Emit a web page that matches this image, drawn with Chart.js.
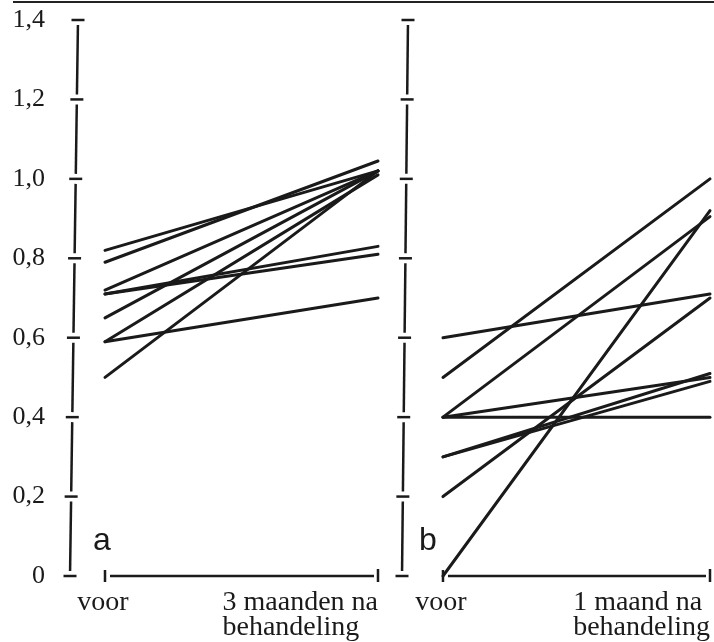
<!DOCTYPE html>
<html>
<head>
<meta charset="utf-8">
<script src="https://cdn.jsdelivr.net/npm/chart.js@4"></script>
<style>
  html, body { margin: 0; padding: 0; background: #fff; }
  #wrap { position: relative; width: 714px; height: 642px; overflow: hidden; }
  #rule { position: absolute; left: 13px; top: 1px; width: 701px; border-top: 2px solid #222; }
  #panelA { position: absolute; left: 0; top: 0; }
  #panelB { position: absolute; left: 392px; top: 0; }
</style>
</head>
<body>
<div id="wrap">
  <div id="rule"></div>
  <canvas id="panelA" width="392" height="642"></canvas>
  <canvas id="panelB" width="322" height="642"></canvas>
</div>
<script>
// --- data: one line per patient, value before and after treatment ---
const yTicks = [0, 0.2, 0.4, 0.6, 0.8, 1.0, 1.2, 1.4];

// panel a: voor -> 3 maanden na behandeling
const voorA = [0.82, 0.79, 0.72, 0.71, 0.71, 0.65, 0.59, 0.59, 0.50];
const naA   = [1.02, 1.045, 1.02, 0.83, 0.81, 1.02, 1.01, 0.70, 1.02];
const labelsA = ['voor', ['3 maanden na', 'behandeling']];

// panel b: voor -> 1 maand na behandeling
const voorB = [0.60, 0.50, 0.40, 0.40, 0.40, 0.30, 0.30, 0.20, 0.00];
const naB   = [0.71, 1.00, 0.905, 0.50, 0.40, 0.51, 0.49, 0.70, 0.92];
const labelsB = ['voor', ['1 maand na', 'behandeling']];

const INK = '#1a1a1a';
const SERIF = "'Liberation Serif', 'Times New Roman', serif";
const SANS = "'Liberation Sans', Arial, sans-serif";

// axis look of the original figure: broken axis with crossing tick marks
const figureAxes = {
  id: 'figureAxes',
  beforeDatasetsDraw(chart, args, opts) {
    const ctx = chart.ctx;
    const xs = chart.scales.x, ys = chart.scales.y;
    const top = ys.getPixelForValue(yTicks[yTicks.length - 1]);
    const bottom = ys.getPixelForValue(0);
    const left = chart.chartArea.left;
    const axisX = y => left - opts.lean * (y - top) / (bottom - top);

    ctx.save();
    ctx.strokeStyle = INK;
    ctx.lineWidth = 2.5;
    ctx.lineCap = 'butt';

    // y axis: tick marks + segments with gaps
    yTicks.forEach((v, i) => {
      const y = ys.getPixelForValue(v);
      const x = axisX(y);
      ctx.beginPath();
      ctx.moveTo(x - 6.5, y); ctx.lineTo(x + 6.5, y);
      ctx.stroke();
      if (i < yTicks.length - 1) {
        const yNext = ys.getPixelForValue(yTicks[i + 1]);
        ctx.beginPath();
        ctx.moveTo(axisX(y - 5), y - 5);
        ctx.lineTo(axisX(yNext + 5), yNext + 5);
        ctx.stroke();
      }
    });

    // x axis: end ticks at voor / na, line between with gaps
    const x0 = xs.getPixelForValue(0), x1 = xs.getPixelForValue(1);
    ctx.beginPath();
    ctx.moveTo(x0, bottom - 6); ctx.lineTo(x0, bottom + 6);
    ctx.moveTo(x1, bottom - 7); ctx.lineTo(x1, bottom + 6);
    ctx.stroke();
    ctx.beginPath();
    ctx.moveTo(x0 + 5, bottom); ctx.lineTo(x1 - 4, bottom);
    ctx.stroke();
    ctx.restore();
  },
  afterDraw(chart, args, opts) {
    const ctx = chart.ctx;
    const xs = chart.scales.x, ys = chart.scales.y;
    const base = ys.getPixelForValue(0);
    ctx.save();
    ctx.fillStyle = INK;
    ctx.textBaseline = 'alphabetic';

    // category labels under the x axis
    ctx.font = '28px ' + SERIF;
    ctx.textAlign = 'center';
    ctx.fillText(opts.labels[0], xs.getPixelForValue(0) - 2, base + 34);
    const lines = opts.labels[1];
    const w = Math.max(...lines.map(t => ctx.measureText(t).width));
    ctx.textAlign = 'left';
    lines.forEach((t, i) => {
      ctx.fillText(t, xs.getPixelForValue(1) - w, base + 34 + i * 25);
    });

    // panel letter
    ctx.font = '32px ' + SANS;
    ctx.fillText(opts.letter, chart.chartArea.left + opts.letterDx, base - 26);
    ctx.restore();
  }
};

function makePanel(id, voor, na, cfg) {
  const datasets = voor.map((v, i) => ({
    data: [{ x: 0, y: v }, { x: 1, y: na[i] }],
    borderColor: INK,
    borderWidth: 3,
    borderCapStyle: 'round',
    pointRadius: 0,
    fill: false,
    clip: false
  }));

  return new Chart(document.getElementById(id), {
    type: 'line',
    data: { datasets },
    plugins: [figureAxes],
    options: {
      responsive: false,
      devicePixelRatio: 1,
      animation: false,
      events: [],
      layout: { padding: { top: 20, bottom: 66, left: 0, right: cfg.padRight } },
      plugins: {
        legend: { display: false },
        tooltip: { enabled: false },
        figureAxes: { lean: cfg.lean, labels: cfg.labels, letter: cfg.letter, letterDx: cfg.letterDx }
      },
      scales: {
        x: { type: 'linear', display: false, min: cfg.xMin, max: cfg.xMax },
        y: {
          type: 'linear', min: 0, max: 1.4,
          afterFit: s => {
            s.width = cfg.axisLeft;
            s.paddingTop = 0; s.paddingBottom = 0;
          },
          afterBuildTicks: s => { s.ticks = yTicks.map(v => ({ value: v })); },
          grid: { display: false, drawTicks: false },
          border: { display: false },
          ticks: {
            display: cfg.showTicks,
            padding: cfg.axisLeft - 45,
            color: INK,
            font: { family: SERIF, size: 26 },
            callback: v => v === 0 ? '0' : v.toFixed(1).replace('.', ',')
          }
        }
      }
    }
  });
}

makePanel('panelA', voorA, naA, {
  axisLeft: 78, padRight: 8, xMin: -0.0989, xMax: 1.022,
  lean: 8, labels: labelsA, letter: 'a', letterDx: 15, showTicks: true
});
makePanel('panelB', voorB, naB, {
  axisLeft: 16, padRight: 2, xMin: -0.131, xMax: 1.0075,
  lean: 6, labels: labelsB, letter: 'b', letterDx: 11, showTicks: false
});
</script>
</body>
</html>
